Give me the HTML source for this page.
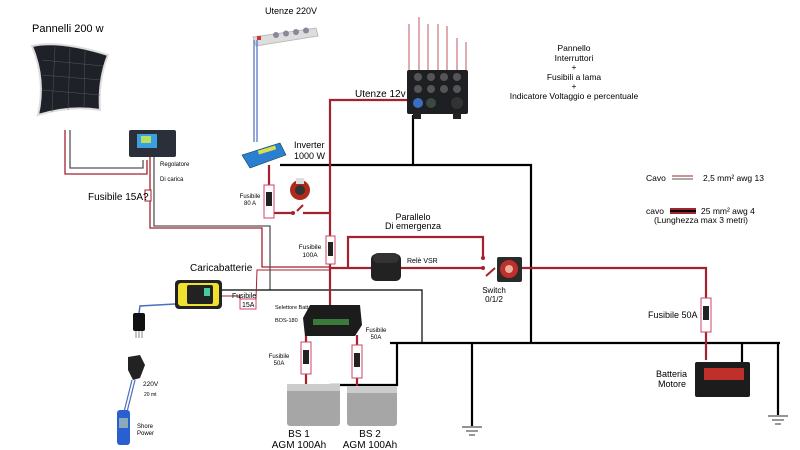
<!DOCTYPE html>
<html><head><meta charset="utf-8"><style>
html,body{margin:0;padding:0;background:#fff;}
svg{display:block;font-family:"Liberation Sans",Arial,sans-serif;}
</style></head><body>
<svg width="800" height="450" viewBox="0 0 800 450" xmlns="http://www.w3.org/2000/svg">
<rect width="800" height="450" fill="#fff"/>
<!-- Solar panel -->
<path d="M32,46 Q60,40 108,55 Q98,80 100,110 Q70,105 38,115 Q46,80 32,46Z" fill="#1e2228" stroke="#ddd" stroke-width="2"/>
<g stroke="#555" stroke-width="0.5">
<line x1="42" y1="60" x2="103" y2="66"/><line x1="42" y1="75" x2="101" y2="80"/><line x1="42" y1="90" x2="100" y2="95"/>
<line x1="55" y1="47" x2="52" y2="112"/><line x1="70" y1="48" x2="68" y2="110"/><line x1="85" y1="51" x2="84" y2="108"/>
</g>
<text x="32" y="32" font-size="11">Pannelli 200 w</text>
<!-- panel wires -->
<polyline points="65,130 65,174 147,174 147,160" fill="none" stroke="#a3222e" stroke-width="1.3"/>
<polyline points="70,130 70,168 143,168 143,160" fill="none" stroke="#555" stroke-width="1.3"/>
<!-- controller -->
<rect x="129" y="130" width="47" height="27" rx="2" fill="#2a2f3a"/>
<rect x="137" y="134" width="20" height="14" fill="#3aa0e0"/>
<rect x="141" y="136" width="10" height="7" fill="#b8e060"/>
<text x="160" y="166" font-size="6">Regolatore</text>
<text x="160" y="181" font-size="6">Di carica</text>
<!-- controller to charger/bus -->
<polyline points="150,157 150,228 262,228 262,267 330,267" fill="none" stroke="#a3222e" stroke-width="1.3"/>
<polyline points="154,157 154,226 270,226 270,290" fill="none" stroke="#555" stroke-width="1.3"/>
<rect x="145" y="190" width="6" height="11" fill="#fff" stroke="#a3222e" stroke-width="1"/>
<text x="88" y="200" font-size="10">Fusibile 15A?</text>
<!-- power strip -->
<text x="265" y="14" font-size="9">Utenze 220V</text>
<polygon points="253,37 316,28 318,36 256,46" fill="#ddd" stroke="#bbb"/>
<g fill="#889"><circle cx="276" cy="35" r="3"/><circle cx="286" cy="33.5" r="3"/><circle cx="296" cy="32" r="3"/><circle cx="306" cy="30.5" r="3"/></g>
<rect x="257" y="36" width="4" height="4" fill="#c33"/>
<line x1="254" y1="40" x2="254" y2="142" stroke="#4a6fc0" stroke-width="1.2"/>
<line x1="257" y1="40" x2="257" y2="142" stroke="#4a6fc0" stroke-width="1.2"/>
<!-- inverter -->
<polygon points="242,155 280,143 286,155 250,168" fill="#2a7fd0" stroke="#145" stroke-width="0.6"/>
<rect x="258" y="148" width="18" height="4" fill="#d8e050" transform="rotate(-17 267 150)"/>
<text x="294" y="148" font-size="9">Inverter</text>
<text x="294" y="159" font-size="9">1000 W</text>
<!-- black wires -->
<g stroke="#000" stroke-width="2.2" fill="none">
<polyline points="280,165 531,165 531,343"/>
<line x1="413" y1="115" x2="413" y2="165"/>
<polyline points="390,343 780,343"/>
<polyline points="397,343 397,385 330,385"/>
<line x1="472" y1="343" x2="472" y2="426"/>
<line x1="742" y1="343" x2="742" y2="362"/>
<line x1="778" y1="343" x2="778" y2="415"/>
</g>
<polyline points="222,290 422,290 422,343" fill="none" stroke="#000" stroke-width="1.2"/>
<!-- ground symbols -->
<g stroke="#555" stroke-width="1.2">
<line x1="462" y1="427" x2="482" y2="427"/><line x1="466" y1="431" x2="478" y2="431"/><line x1="469" y1="435" x2="475" y2="435"/>
<line x1="768" y1="416" x2="788" y2="416"/><line x1="772" y1="420" x2="784" y2="420"/><line x1="775" y1="424" x2="781" y2="424"/>
</g>
<!-- red thick wires -->
<g stroke="#a3222e" stroke-width="2.2" fill="none">
<polyline points="410,100 330,100 330,310"/>
<line x1="269" y1="165" x2="269" y2="218"/>
<line x1="269" y1="213" x2="293" y2="213"/>
<line x1="303" y1="213" x2="330" y2="213"/>
<polyline points="348,268 348,237 483,237 483,258"/>
<line x1="330" y1="268" x2="372" y2="268"/>
<line x1="400" y1="268" x2="483" y2="268"/>
<polyline points="522,268 706,268 706,360"/>
<line x1="306" y1="335" x2="306" y2="385"/>
<line x1="357" y1="335" x2="357" y2="388"/>
</g>
<circle cx="293" cy="213" r="2" fill="#a3222e"/><circle cx="483" cy="258" r="2" fill="#a3222e"/><circle cx="483" cy="268" r="2" fill="#a3222e"/>
<line x1="297" y1="211" x2="303" y2="205" stroke="#a3222e" stroke-width="2"/>
<line x1="486" y1="276" x2="495" y2="268" stroke="#a3222e" stroke-width="2"/>
<!-- fuses -->
<g fill="#fff" stroke="#c46" stroke-width="1">
<rect x="264" y="185" width="10" height="33"/><rect x="326" y="236" width="9" height="28"/>
<rect x="301" y="342" width="10" height="32"/><rect x="352" y="345" width="10" height="33"/>
<rect x="701" y="298" width="10" height="34"/><rect x="240" y="299" width="16" height="10"/>
</g>
<g fill="#222"><rect x="266" y="192" width="6" height="14"/><rect x="328" y="242" width="5" height="14"/><rect x="303" y="350" width="6" height="14"/><rect x="354" y="353" width="6" height="14"/><rect x="703" y="306" width="6" height="14"/></g>
<text x="250" y="198" font-size="6" text-anchor="middle">Fusibile</text><text x="250" y="205" font-size="6" text-anchor="middle">80 A</text>
<text x="310" y="249" font-size="6.5" text-anchor="middle">Fusibile</text><text x="310" y="257" font-size="6.5" text-anchor="middle">100A</text>
<text x="279" y="358" font-size="6" text-anchor="middle">Fusibile</text><text x="279" y="365" font-size="6" text-anchor="middle">50A</text>
<text x="376" y="332" font-size="6" text-anchor="middle">Fusibile</text><text x="376" y="339" font-size="6" text-anchor="middle">50A</text>
<text x="648" y="318" font-size="9">Fusibile 50A</text>
<!-- red knob switch -->
<circle cx="300" cy="190" r="10" fill="#b02a1c"/><circle cx="300" cy="190" r="5" fill="#333"/><rect x="296" y="178" width="8" height="6" fill="#ddd"/>
<!-- fuse panel -->
<g stroke="#b0303e" stroke-width="0.8"><line x1="409" y1="24" x2="409" y2="72"/><line x1="419" y1="17" x2="419" y2="72"/><line x1="428" y1="24" x2="428" y2="72"/><line x1="438" y1="24" x2="438" y2="72"/><line x1="447" y1="26" x2="447" y2="72"/><line x1="457" y1="38" x2="457" y2="72"/><line x1="466" y1="42" x2="466" y2="72"/></g>
<rect x="407" y="70" width="61" height="44" rx="2" fill="#1d1f22"/>
<g fill="#555"><circle cx="418" cy="77" r="4"/><circle cx="431" cy="77" r="4"/><circle cx="444" cy="77" r="4"/><circle cx="457" cy="77" r="4"/><circle cx="418" cy="89" r="4"/><circle cx="431" cy="89" r="4"/><circle cx="444" cy="89" r="4"/><circle cx="457" cy="89" r="4"/></g>
<circle cx="418" cy="103" r="5" fill="#3a6fc0"/><circle cx="431" cy="103" r="5" fill="#3a4a40"/><circle cx="457" cy="103" r="6" fill="#333"/>
<rect x="413" y="113" width="8" height="6" fill="#222"/><rect x="453" y="113" width="8" height="6" fill="#222"/>
<text x="355" y="97" font-size="10">Utenze 12v</text>
<g font-size="8.5" text-anchor="middle"><text x="574" y="51">Pannello</text><text x="574" y="61">Interruttori</text><text x="574" y="70">+</text><text x="574" y="80">Fusibili a lama</text><text x="574" y="89">+</text><text x="574" y="99">Indicatore Voltaggio e percentuale</text></g>
<!-- legend -->
<text x="646" y="181" font-size="8.5">Cavo</text>
<line x1="672" y1="176" x2="693" y2="176" stroke="#a3222e" stroke-width="1"/><line x1="672" y1="179" x2="693" y2="179" stroke="#555" stroke-width="1"/>
<text x="703" y="181" font-size="8.5">2,5 mm² awg 13</text>
<text x="646" y="214" font-size="8.5">cavo</text>
<rect x="670" y="208" width="26" height="2" fill="#a3222e"/><rect x="670" y="210" width="26" height="2" fill="#000"/><rect x="670" y="212" width="26" height="2" fill="#a3222e"/>
<text x="701" y="214" font-size="8.5">25 mm²  awg 4</text>
<text x="654" y="223" font-size="8.5">(Lunghezza max 3 metri)</text>
<!-- parallelo -->
<text x="413" y="220" font-size="9" text-anchor="middle">Parallelo</text><text x="413" y="229" font-size="9" text-anchor="middle">Di emergenza</text>
<rect x="371" y="254" width="30" height="27" rx="5" fill="#222"/><rect x="373" y="253" width="26" height="10" rx="5" fill="#333"/>
<text x="407" y="263" font-size="7">Relè VSR</text>
<rect x="497" y="257" width="25" height="25" rx="2" fill="#2b2b2b"/><circle cx="509" cy="269" r="9" fill="#c0302a"/><circle cx="509" cy="269" r="4" fill="#e8b0a0"/>
<text x="494" y="293" font-size="8" text-anchor="middle">Switch</text><text x="494" y="302" font-size="8" text-anchor="middle">0/1/2</text>
<!-- charger -->
<text x="190" y="271" font-size="10">Caricabatterie</text>
<rect x="175" y="280" width="47" height="29" rx="4" fill="#222"/><rect x="178" y="283" width="41" height="23" rx="3" fill="#f0e030"/><rect x="187" y="285" width="26" height="19" rx="2" fill="#222"/><rect x="204" y="288" width="6" height="8" fill="#4c9"/>
<polyline points="222,296 240,296 240,299" fill="none" stroke="#a3222e" stroke-width="1"/>
<polyline points="256,299 257,270 330,270" fill="none" stroke="#a3222e" stroke-width="1"/>
<text x="232" y="298" font-size="7">Fusibile</text><text x="242" y="307" font-size="7">15A</text>
<polyline points="175,304 140,306 139,313" fill="none" stroke="#4a6fc0" stroke-width="1.5"/>
<rect x="133" y="313" width="12" height="18" rx="2" fill="#111"/><g stroke="#888"><line x1="136" y1="331" x2="136" y2="338"/><line x1="139" y1="331" x2="139" y2="338"/><line x1="142" y1="331" x2="142" y2="338"/></g>
<path d="M128,357 L140,355 L145,365 L140,378 L133,380 L128,370Z" fill="#222"/>
<line x1="132" y1="380" x2="124" y2="412" stroke="#4a6fc0" stroke-width="1.2"/><line x1="135" y1="380" x2="127" y2="412" stroke="#4a6fc0" stroke-width="1.2"/>
<rect x="117" y="410" width="13" height="35" rx="3" fill="#2a5fd0"/><rect x="119" y="418" width="9" height="10" fill="#8ab"/>
<text x="143" y="386" font-size="6.5">220V</text><text x="144" y="396" font-size="5">20 mt</text>
<text x="137" y="428" font-size="6">Shore</text><text x="137" y="435" font-size="6">Power</text>
<!-- selector -->
<polygon points="310,305 360,305 362,325 355,336 305,336 303,318" fill="#1c1c1c"/>
<rect x="313" y="319" width="36" height="6" fill="#3a7a3a"/>
<text x="275" y="309" font-size="5.5">Selettore Batt</text><text x="275" y="322" font-size="5.5">BOS-180</text>
<!-- batteries -->
<rect x="287" y="384" width="53" height="42" rx="3" fill="#a6a6a6"/><rect x="287" y="384" width="53" height="7" fill="#ccc"/>
<rect x="347" y="386" width="50" height="40" rx="3" fill="#a6a6a6"/><rect x="347" y="386" width="50" height="7" fill="#ccc"/>
<g font-size="10" text-anchor="middle"><text x="299" y="437">BS 1</text><text x="299" y="448">AGM 100Ah</text><text x="370" y="437">BS 2</text><text x="370" y="448">AGM 100Ah</text></g>
<rect x="695" y="362" width="55" height="35" rx="2" fill="#1c1c1c"/><rect x="704" y="368" width="40" height="12" fill="#c0302a"/>
<text x="656" y="377" font-size="9">Batteria</text><text x="658" y="387" font-size="9">Motore</text>
</svg>
</body></html>
